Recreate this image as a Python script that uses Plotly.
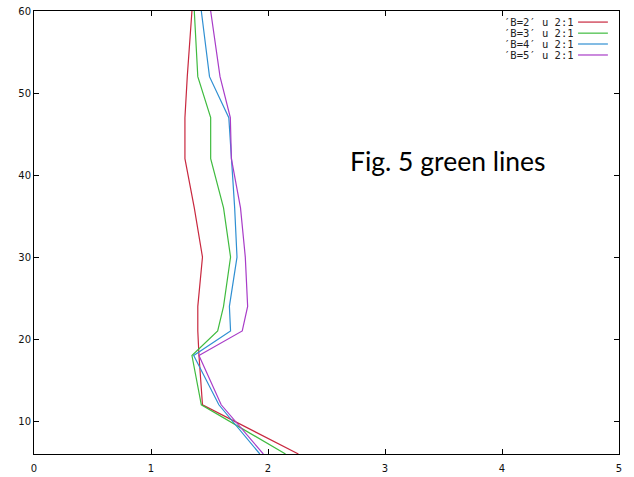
import plotly.graph_objects as go

# Data
depth = [6, 12, 18, 21, 24, 30, 36, 42, 47, 52, 60]
b2 = [2.26, 1.44, 1.41, 1.40, 1.40, 1.44, 1.37, 1.29, 1.29, 1.31, 1.35]
b3 = [2.15, 1.43, 1.35, 1.57, 1.62, 1.68, 1.62, 1.51, 1.51, 1.40, 1.37]
b4 = [1.93, 1.58, 1.365, 1.68, 1.67, 1.735, 1.715, 1.685, 1.665, 1.50, 1.43]
b5 = [1.96, 1.60, 1.41, 1.78, 1.826, 1.806, 1.765, 1.687, 1.678, 1.59, 1.51]

series_names = ["\u2032B=2\u2032 u 2:1", "\u2032B=3\u2032 u 2:1", "\u2032B=4\u2032 u 2:1", "\u2032B=5\u2032 u 2:1"]
series_vals = [b2, b3, b4, b5]
colors = ["#c8283f", "#3fbb3f", "#2f8fd2", "#a83cc8"]

x_ticks = [0, 1, 2, 3, 4, 5]
y_ticks = [10, 20, 30, 40, 50, 60]

fig = go.Figure()
for name, vals, c in zip(series_names, series_vals, colors):
    fig.add_trace(go.Scatter(x=vals, y=depth, mode="lines", name=name,
                             line=dict(color=c, width=1.2), showlegend=False))

# Legend drawn gnuplot-style: text right-aligned, sample line on the right
row_y = [0.975, 0.950, 0.9255, 0.9007]
for name, c, ry in zip(series_names, colors, row_y):
    fig.add_annotation(x=0.9249, y=ry, xref="paper", yref="paper", text=name,
                       showarrow=False, xanchor="right", yanchor="middle",
                       height=10, borderpad=0,
                       font=dict(family="DejaVu Sans Mono", size=10.5, color="#222222"))
    fig.add_shape(type="line", xref="paper", yref="paper", x0=0.930, x1=0.981,
                  y0=ry, y1=ry, line=dict(color=c, width=1.2))

fig.add_annotation(x=0.537, y=0.6615, xref="paper", yref="paper",
                   text="Fig. 5 green lines", showarrow=False,
                   xanchor="left", yanchor="middle",
                   font=dict(family="Lato", size=26.5, color="#000000"))

axis_common = dict(showline=True, linecolor="#000000", linewidth=1, mirror="allticks",
                   ticks="inside", ticklen=5, tickcolor="#000000", tickwidth=1,
                   showgrid=False, zeroline=False, automargin=False,
                   tickfont=dict(family="DejaVu Sans", size=10, color="#111111"))

fig.update_xaxes(range=[0, 5], tickvals=x_ticks, ticktext=[str(v) for v in x_ticks],
                 ticklabelstandoff=5, **axis_common)
fig.update_yaxes(range=[6, 60.001], tickvals=y_ticks, ticktext=[str(v) for v in y_ticks], **axis_common)

fig.update_layout(width=634, height=477, margin=dict(l=34, r=15, t=11, b=23),
                  paper_bgcolor="#ffffff", plot_bgcolor="#ffffff")

fig.write_html("out.html", config={"displayModeBar": False},
               post_script="document.body.style.margin='0';")
